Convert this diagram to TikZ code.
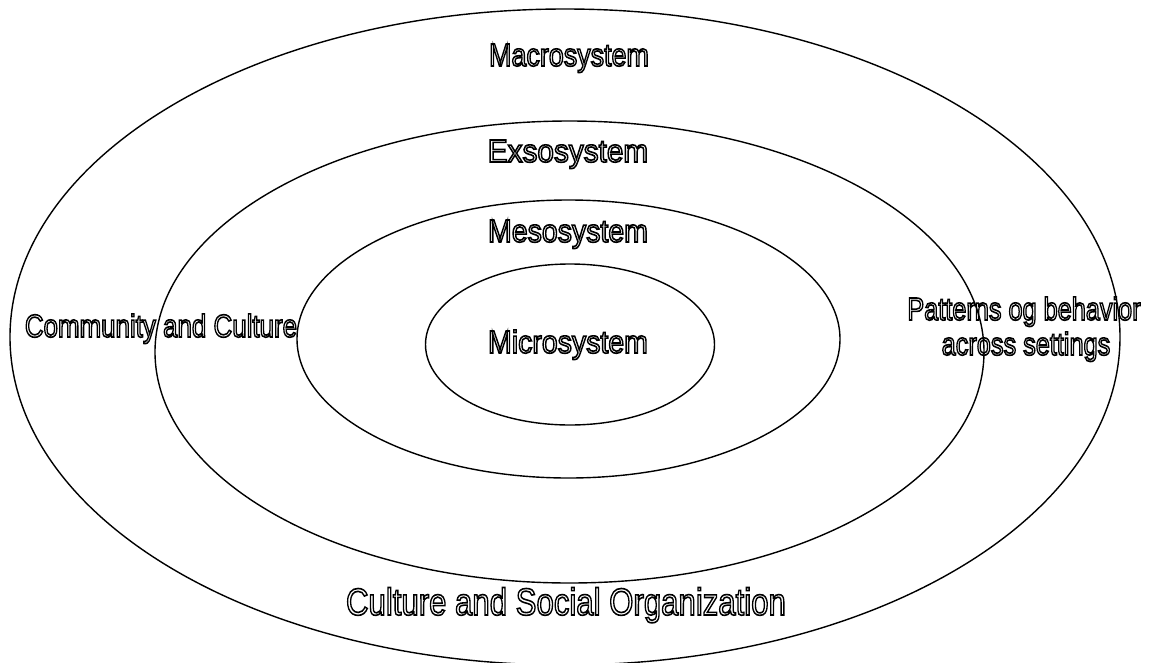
\documentclass[tikz,border=0pt]{standalone}
\usepackage{fontspec}
\setmainfont{Liberation Sans}
\usepackage{graphicx}
\usetikzlibrary{shapes.geometric}

\newcommand{\hollow}[2]{\scalebox{#1}[1]{\special{pdf:literal direct 1 Tr 1.6 w}#2\special{pdf:literal direct 0 Tr}}}

\begin{document}
\begin{tikzpicture}[x=1pt,y=-1pt,
  ring/.style={ellipse,draw,line width=1.4pt,inner sep=0pt},
  wordart/.style={anchor=base,inner sep=0pt,font=\fontsize{32}{35}\selectfont}]
  \useasboundingbox (0,0) rectangle (1149,662);
  \clip (0,0) rectangle (1149,662);
  % the four systems
  \node[ring,minimum width=1110pt,minimum height=656pt] (macro) at (565,337) {};
  \node[ring,minimum width=829pt,minimum height=462pt] (exo) at (569.5,352) {};
  \node[ring,minimum width=543pt,minimum height=278pt] (meso) at (568.5,339) {};
  \node[ring,minimum width=289pt,minimum height=161pt] (micro) at (570,344.5) {};
  % names
  \node[wordart] (macrotext) at (569,66) {\hollow{0.84}{Macrosystem}};
  \node[wordart] (exotext) at (568,162) {\hollow{0.93}{Exsosystem}};
  \node[wordart] (mesotext) at (568,242) {\hollow{0.89}{Mesosystem}};
  \node[wordart] (microtext) at (568,353) {\hollow{0.89}{Microsystem}};
  \node[wordart] (community) at (161,337) {\hollow{0.81}{Community and Culture}};
  \node[wordart] (patterns) at (1024,320) {\hollow{0.79}{Patterns og behavior}};
  \node[wordart] (settings) at (1026,355) {\hollow{0.79}{across settings}};
  \node[wordart,font=\fontsize{38}{42}\selectfont] (culture) at (566,615) {\hollow{0.82}{Culture and Social Organization}};
\end{tikzpicture}
\end{document}
